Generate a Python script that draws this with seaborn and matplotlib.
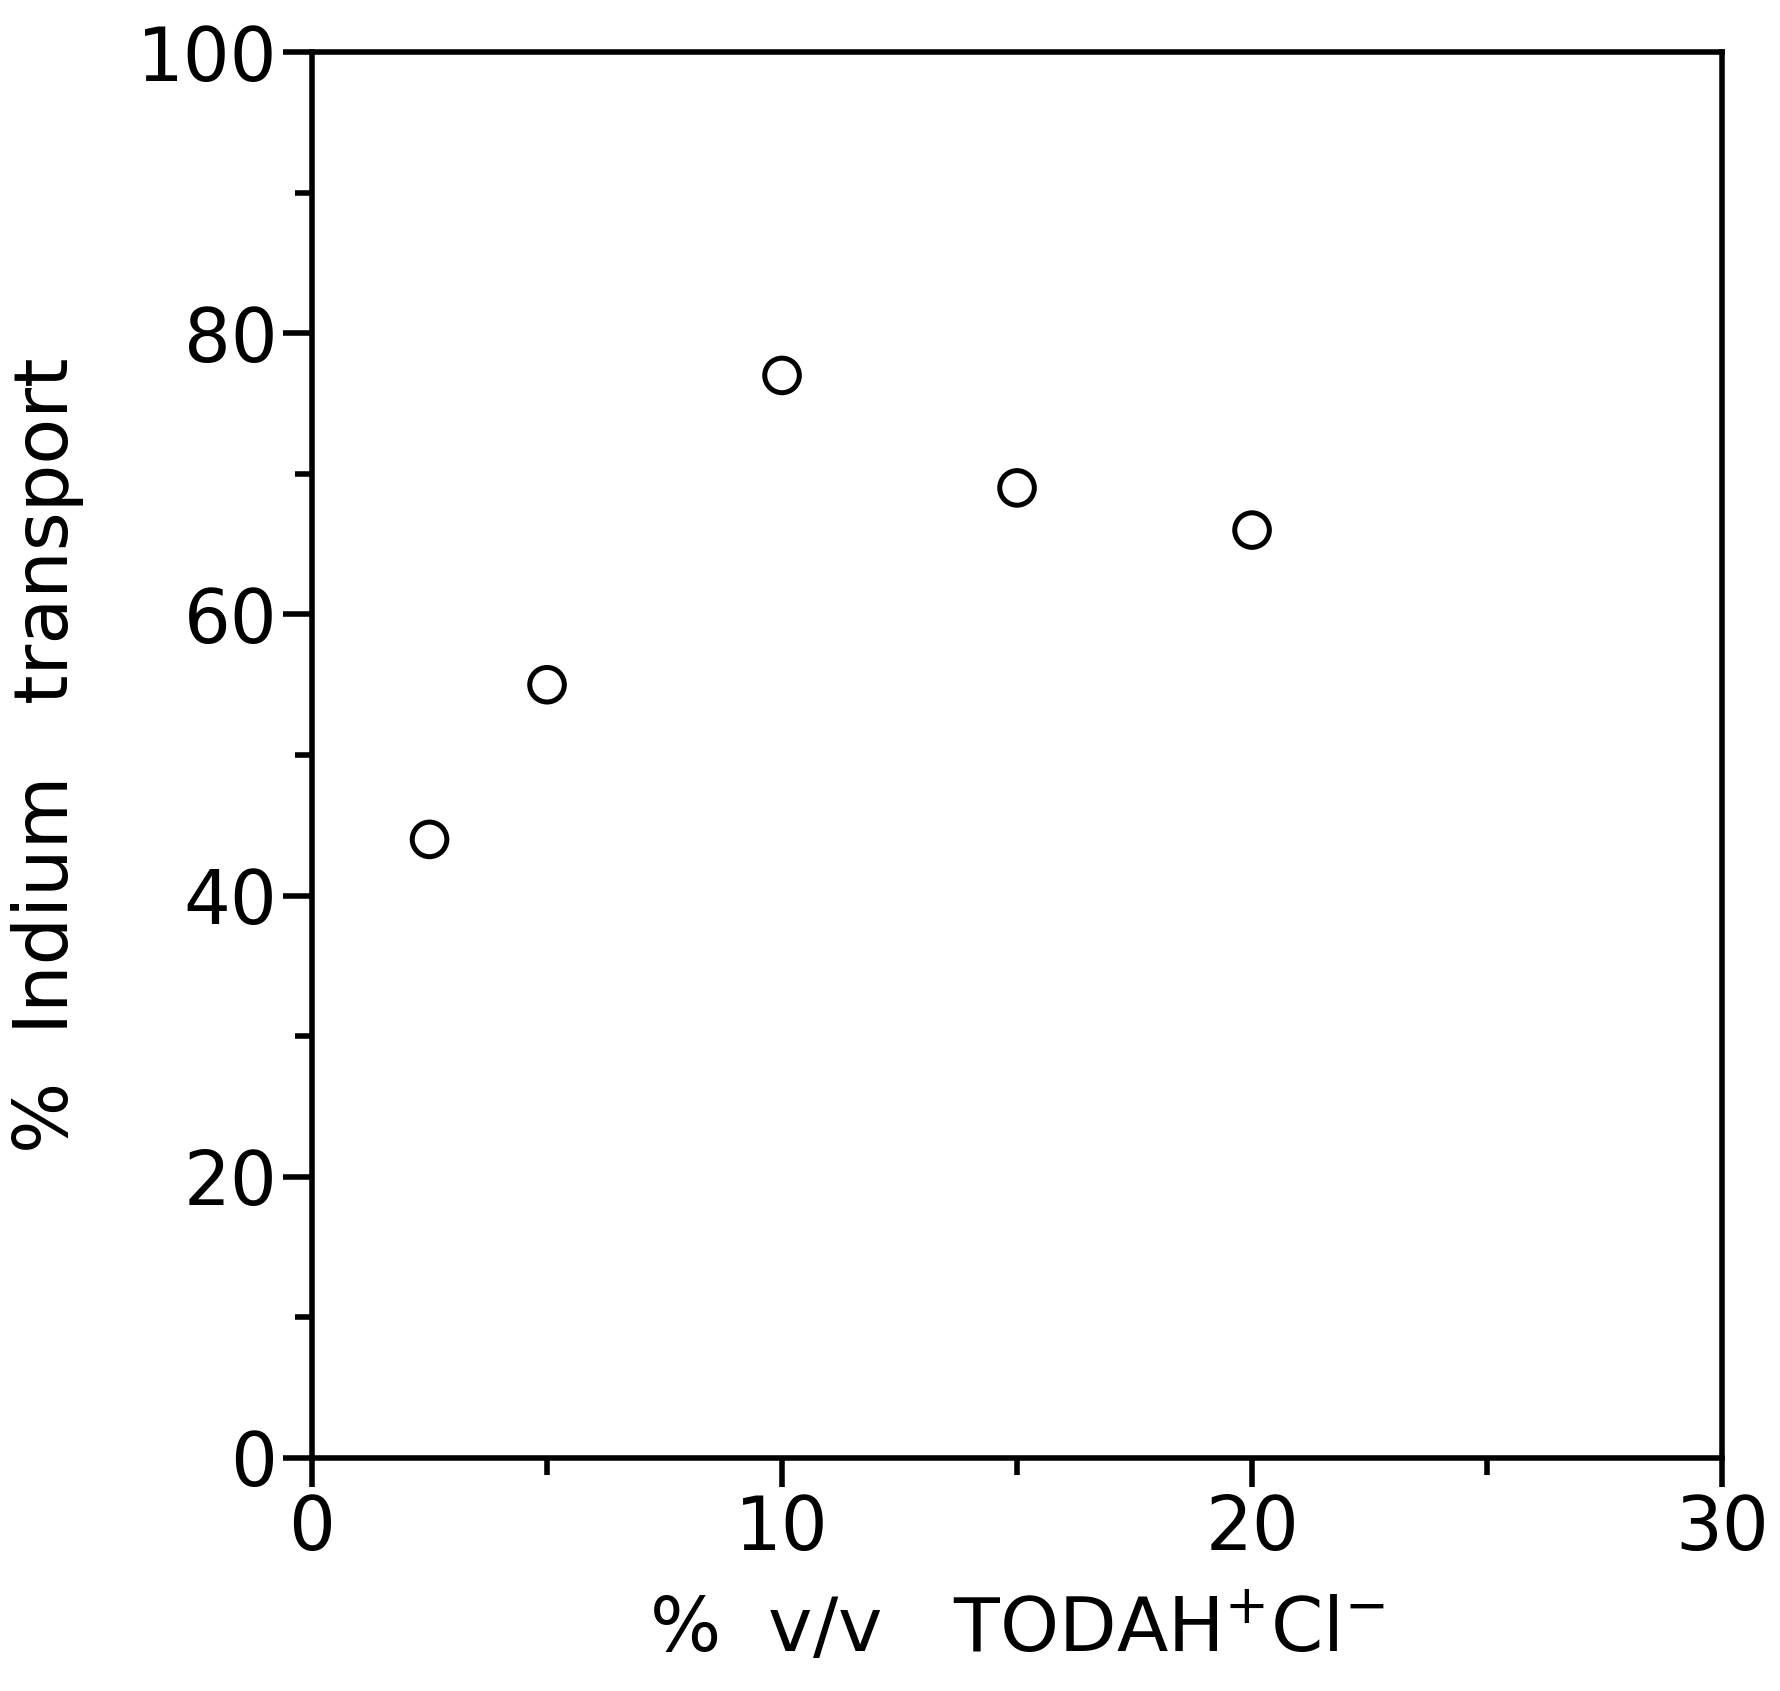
import numpy as np
import pandas as pd
import seaborn as sns
import matplotlib.pyplot as plt
from matplotlib.ticker import MultipleLocator

# values
todah_pct = [2.5, 5, 10, 15, 20]
indium_transport = [44, 55, 77, 69, 66]

df = pd.DataFrame({"todah": todah_pct, "transport": indium_transport})

sns.set_style("ticks")
plt.rcParams['font.family'] = ['DejaVu Sans']
plt.rcParams['text.color'] = 'black'
plt.rcParams['axes.labelcolor'] = 'black'
plt.rcParams['xtick.color'] = 'black'
plt.rcParams['ytick.color'] = 'black'

fig = plt.figure(figsize=(17.81, 16.91), dpi=100)
ax = fig.add_axes([0.1752, 0.1378, 0.7917, 0.8314])

sns.scatterplot(data=df, x="todah", y="transport", ax=ax, s=620,
                facecolors="none", edgecolor="black", linewidth=3.6, zorder=3)

ax.set_xlim(0, 30)
ax.set_ylim(0, 100)
ax.xaxis.set_major_locator(MultipleLocator(10))
ax.xaxis.set_minor_locator(MultipleLocator(5))
ax.yaxis.set_major_locator(MultipleLocator(20))
ax.yaxis.set_minor_locator(MultipleLocator(10))

for sp in ax.spines.values():
    sp.set_linewidth(4)
    sp.set_color("black")
    sp.set_visible(True)

ax.tick_params(which="major", length=21, width=4, labelsize=53, pad=4,
               color="black", labelcolor="black")
ax.tick_params(which="minor", length=12, width=4, color="black")

ax.set_xlabel("%  v/v   TODAH$^{+}$Cl$^{-}$", fontsize=54, labelpad=20, color="black")
ax.set_ylabel("%  Indium   transport", fontsize=54, labelpad=38, color="black")

plt.savefig("out.png", dpi=100)
